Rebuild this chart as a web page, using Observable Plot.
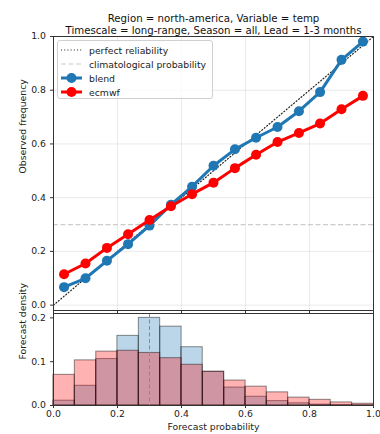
<!DOCTYPE html>
<html>
<head>
<meta charset="utf-8">
<script src="https://cdn.jsdelivr.net/npm/d3@7"></script>
<script src="https://cdn.jsdelivr.net/npm/@observablehq/plot@0.6"></script>
<style>
  html, body { margin: 0; padding: 0; background: #fff; }
  #wrap { position: relative; width: 380px; height: 434px; font-family: "DejaVu Sans", sans-serif; }
  #wrap svg { position: absolute; left: 0; overflow: visible; }
  #legend { position: absolute; left: 57px; top: 40px; width: 156px; height: 59px; border: 1px solid #d0d0d0; border-radius: 3px; background: rgba(255,255,255,0.8); font-size: 9.3px; color: #222; box-sizing: border-box; }
  .row { position: absolute; left: 3px; height: 14px; display: flex; align-items: center; }
  .row span { margin-left: 7px; }
</style>
</head>
<body>
<div id="wrap"></div>
<script>
// ---- data ----
const binCenters = [0.033, 0.1, 0.167, 0.233, 0.3, 0.367, 0.433, 0.5, 0.567, 0.633, 0.7, 0.767, 0.833, 0.9, 0.967];
const blendObserved = [0.067, 0.100, 0.165, 0.227, 0.296, 0.374, 0.441, 0.519, 0.580, 0.623, 0.663, 0.722, 0.793, 0.913, 0.981];
const ecmwfObserved = [0.115, 0.155, 0.213, 0.264, 0.317, 0.368, 0.413, 0.456, 0.510, 0.560, 0.607, 0.641, 0.676, 0.729, 0.779];
const blendDensity = [0.011, 0.045, 0.106, 0.159, 0.200, 0.180, 0.133, 0.077, 0.041, 0.020, 0.010, 0.005, 0.002, 0.001, 0.0005];
const ecmwfDensity = [0.070, 0.103, 0.123, 0.125, 0.120, 0.108, 0.093, 0.077, 0.057, 0.043, 0.030, 0.018, 0.013, 0.007, 0.004];
const binWidth = 1 / 15;
const climatology = 0.3;
const perfect = [0, 1];
const xTicks = [0, 0.2, 0.4, 0.6, 0.8, 1.0];
const obsTicks = [0, 0.2, 0.4, 0.6, 0.8, 1.0];
const densTicks = [0, 0.1, 0.2];
const titleLines = ["Region = north-america, Variable = temp", "Timescale = long-range, Season = all, Lead = 1-3 months"];
const blendColor = "#1f77b4";
const ecmwfColor = "#ff0000";

const rows = binCenters.map((p, i) => ({
  p, blend: blendObserved[i], ecmwf: ecmwfObserved[i],
  blendD: blendDensity[i], ecmwfD: ecmwfDensity[i],
  x1: p - binWidth / 2, x2: p + binWidth / 2
}));
const fmt = d => d.toFixed(1);
const FS = 9.3;
const style = { fontFamily: "DejaVu Sans, sans-serif", fontSize: FS + "px", color: "#222", background: "transparent", overflow: "visible" };

const topChart = Plot.plot({
  width: 380, height: 314,
  marginLeft: 53, marginRight: 7, marginTop: 36, marginBottom: 4,
  style,
  x: { domain: [0, 1] },
  y: { domain: [-0.02, 1] },
  marks: [
    Plot.gridX(xTicks, { stroke: "#b0b0b0", strokeOpacity: 0.25 }),
    Plot.gridY(obsTicks, { stroke: "#b0b0b0", strokeOpacity: 0.25 }),
    Plot.ruleY([climatology], { stroke: "#cccccc", strokeWidth: 1.2, strokeDasharray: "5,2.5" }),
    Plot.line(perfect, { x: d => d, y: d => d, stroke: "#222", strokeWidth: 1.2, strokeDasharray: "1,2.2" }),
    Plot.line(rows, { x: "p", y: "blend", stroke: blendColor, strokeWidth: 3 }),
    Plot.dot(rows, { x: "p", y: "blend", fill: blendColor, r: 5 }),
    Plot.line(rows, { x: "p", y: "ecmwf", stroke: ecmwfColor, strokeWidth: 3 }),
    Plot.dot(rows, { x: "p", y: "ecmwf", fill: ecmwfColor, r: 5 }),
    Plot.frame({ stroke: "#333", strokeWidth: 1 }),
    Plot.axisX({ ticks: xTicks, tickSize: 3, tickFormat: () => "", label: null, stroke: "#333" }),
    Plot.axisY({ ticks: obsTicks, tickSize: 3, tickPadding: 4.5, tickFormat: fmt, label: null, stroke: "#333" }),
    Plot.text(["Observed frequency"], { frameAnchor: "left", dx: -30, rotate: -90, fontSize: FS, fill: "#222" }),
    Plot.text([titleLines[0]], { frameAnchor: "top", dy: -22, fontSize: 10.2, fill: "#111" }),
    Plot.text([titleLines[1]], { frameAnchor: "top", dy: -9.5, fontSize: 10.2, fill: "#111" })
  ]
});
topChart.style.top = "0px";

const bottomChart = Plot.plot({
  width: 380, height: 131,
  marginLeft: 53, marginRight: 7, marginTop: 10, marginBottom: 29,
  style,
  x: { domain: [0, 1] },
  y: { domain: [0, 0.21] },
  marks: [
    Plot.rectY(rows, { x1: "x1", x2: "x2", y: "blendD", fill: blendColor, fillOpacity: 0.3, stroke: "#000", strokeOpacity: 0.45, strokeWidth: 1 }),
    Plot.rectY(rows, { x1: "x1", x2: "x2", y: "ecmwfD", fill: ecmwfColor, fillOpacity: 0.3, stroke: "#000", strokeOpacity: 0.45, strokeWidth: 1 }),
    Plot.ruleX([climatology], { stroke: "#888", strokeWidth: 1, strokeDasharray: "4,2.5" }),
    Plot.frame({ stroke: "#333", strokeWidth: 1 }),
    Plot.axisX({ ticks: xTicks, tickSize: 3, tickPadding: 2, tickFormat: fmt, label: null, stroke: "#333" }),
    Plot.axisY({ ticks: densTicks, tickSize: 3, tickPadding: 4.5, tickFormat: fmt, label: null, stroke: "#333" }),
    Plot.text(["Forecast density"], { frameAnchor: "left", dx: -30, rotate: -90, fontSize: FS, fill: "#222" }),
    Plot.text(["Forecast probability"], { frameAnchor: "bottom", dy: 24, fontSize: FS, fill: "#222" })
  ]
});
bottomChart.style.top = "303px";

const wrap = document.getElementById("wrap");
wrap.appendChild(topChart);
wrap.appendChild(bottomChart);

// legend
const legend = document.createElement("div");
legend.id = "legend";
const items = [
  { label: "perfect reliability", svg: '<line x1="0" y1="7" x2="21" y2="7" stroke="#222" stroke-width="1.2" stroke-dasharray="1,2.2"/>' },
  { label: "climatological probability", svg: '<line x1="0" y1="7" x2="21" y2="7" stroke="#cccccc" stroke-width="1.2" stroke-dasharray="5,2.5"/>' },
  { label: "blend", svg: `<line x1="0" y1="7" x2="21" y2="7" stroke="${blendColor}" stroke-width="3"/><circle cx="10.5" cy="7" r="5" fill="${blendColor}"/>` },
  { label: "ecmwf", svg: `<line x1="0" y1="7" x2="21" y2="7" stroke="${ecmwfColor}" stroke-width="3"/><circle cx="10.5" cy="7" r="5" fill="${ecmwfColor}"/>` }
];
items.forEach((it, i) => {
  const row = document.createElement("div");
  row.className = "row";
  row.style.top = (2 + i * 14) + "px";
  row.innerHTML = `<svg width="21" height="14" style="position:static">${it.svg}</svg><span>${it.label}</span>`;
  legend.appendChild(row);
});
wrap.appendChild(legend);
</script>
</body>
</html>
